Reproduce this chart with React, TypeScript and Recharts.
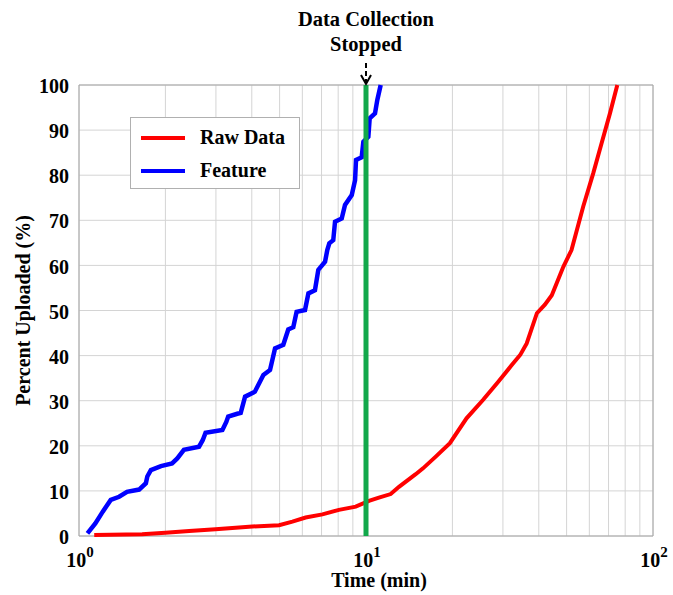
import React from 'react';
import { LineChart, Line, XAxis, YAxis, CartesianGrid, ReferenceLine, ReferenceArea } from 'recharts';

// Feature upload curve (time in min, percent uploaded)
const featureTime = [1.07, 1.14, 1.21, 1.29, 1.38, 1.47, 1.62, 1.71, 1.73, 1.78, 1.93, 2.11, 2.2, 2.32, 2.62, 2.7, 2.76, 3.16, 3.26, 3.31, 3.56, 3.66, 3.79, 4.1, 4.39, 4.63, 4.82, 5.15, 5.36, 5.58, 5.73, 6.13, 6.3, 6.64, 6.82, 7.2, 7.33, 7.45, 7.69, 7.8, 8.23, 8.45, 8.92, 9.16, 9.23, 9.66, 9.79, 10.19, 10.3, 10.75, 10.95, 11.25];
const featurePct = [0.6, 2.8, 5.4, 8.0, 8.7, 9.8, 10.3, 11.7, 13.2, 14.6, 15.5, 16.1, 17.2, 19.1, 19.8, 21.3, 22.9, 23.5, 25.3, 26.5, 27.1, 27.3, 30.9, 32.0, 35.7, 36.8, 41.6, 42.4, 45.8, 46.3, 49.7, 50.1, 53.8, 54.5, 59.0, 60.8, 63.4, 64.9, 65.6, 69.7, 70.4, 73.4, 75.6, 78.9, 83.4, 84.0, 87.4, 88.5, 92.6, 93.7, 96.7, 100];

// Raw data upload curve
const rawTime = [1.13, 1.66, 2.0, 2.42, 2.99, 4.02, 4.98, 5.54, 6.16, 7.05, 8.05, 9.21, 10.24, 11.09, 12.19, 13.03, 14.9, 15.8, 17.5, 19.6, 22.4, 25.6, 28.9, 32.2, 34.5, 36.3, 39.4, 42.0, 44.4, 48.7, 52.0, 57.1, 61.9, 66.2, 70.8, 75.1];
const rawPct = [0.2, 0.4, 0.7, 1.1, 1.5, 2.1, 2.4, 3.2, 4.1, 4.8, 5.8, 6.5, 7.8, 8.5, 9.3, 10.9, 13.7, 15.0, 17.6, 20.6, 26.1, 30.2, 34.2, 37.9, 40.2, 42.7, 49.4, 51.3, 53.4, 59.7, 63.4, 73.0, 80.4, 87.1, 93.7, 100];

const xTicks = [1, 2, 3, 4, 5, 6, 7, 8, 9, 10, 20, 30, 40, 50, 60, 70, 80, 90, 100];
const yTicks = [0, 10, 20, 30, 40, 50, 60, 70, 80, 90, 100];
const stopTime = 10;

const seriesNames = ['Raw Data', 'Feature'];
const seriesColors = ['#ff0000', '#0000ff'];

const featureData = featureTime.map((t, i) => ({ t, pct: featurePct[i] }));
const rawData = rawTime.map((t, i) => ({ t, pct: rawPct[i] }));

const FONT = '"Liberation Serif", "Times New Roman", serif';

const XTick = (props: any) => {
  const { x, y, payload } = props;
  const exp = Math.log10(payload.value);
  if (Math.abs(exp - Math.round(exp)) > 1e-6) return <g />;
  return (
    <text x={x + 1} y={y + 23} textAnchor="middle" fontFamily={FONT} fontWeight="bold" fontSize={20} fill="#000">
      10<tspan dy={-10} fontSize={15}>{Math.round(exp)}</tspan>
    </text>
  );
};

const StopLabel = (props: any) => {
  const { viewBox } = props;
  const cx = viewBox.x;
  const top = viewBox.y;
  return (
    <g>
      <text x={cx} y={top - 59} textAnchor="middle" fontFamily={FONT} fontWeight="bold" fontSize={20.5} fill="#000">Data Collection</text>
      <text x={cx} y={top - 34} textAnchor="middle" fontFamily={FONT} fontWeight="bold" fontSize={20.5} fill="#000">Stopped</text>
      <line x1={cx} y1={top - 22} x2={cx} y2={top - 2} stroke="#000" strokeWidth={2} strokeDasharray="5 3" />
      <polyline points={`${cx - 5},${top - 10} ${cx},${top - 1} ${cx + 5},${top - 10}`} fill="none" stroke="#000" strokeWidth={2} />
    </g>
  );
};

export default function App() {
  return (
    <div style={{ position: 'fixed', left: 0, top: 0, width: 673, height: 595, background: '#fff' }}>
      <LineChart width={673} height={595} margin={{ top: 85, right: 20, bottom: 0, left: 0 }}>
        <CartesianGrid stroke="#d4d4d4" strokeWidth={1} />
        <XAxis
          dataKey="t"
          type="number"
          scale="log"
          domain={[1, 100]}
          ticks={xTicks}
          allowDataOverflow
          height={59}
          tickLine={false}
          axisLine={false}
          tick={<XTick />}
          interval={0}
          label={(p: any) => (
            <text x={p.viewBox.x + p.viewBox.width / 2 + 13} y={p.viewBox.y + 51} textAnchor="middle" fontFamily={FONT} fontWeight="bold" fontSize={20} fill="#000">Time (min)</text>
          )}
        />
        <YAxis
          type="number"
          domain={[0, 100]}
          ticks={yTicks}
          width={79}
          tickLine={false}
          axisLine={false}
          interval={0}
          tick={{ fontFamily: FONT, fontWeight: 'bold', fontSize: 20, fill: '#000', dx: -2, dy: 1 }}
          label={(p: any) => {
            const cx = p.viewBox.x + 23;
            const cy = p.viewBox.y + p.viewBox.height / 2;
            return (
              <text x={cx} y={cy} transform={`rotate(-90 ${cx} ${cy})`} textAnchor="middle" dominantBaseline="central" fontFamily={FONT} fontWeight="bold" fontSize={20} fill="#000">Percent Uploaded (%)</text>
            );
          }}
        />
        <ReferenceArea x1={1} x2={100} y1={0} y2={100} fill="none" stroke="#a6a6a6" strokeWidth={1} ifOverflow="visible" />
        <Line data={rawData} dataKey="pct" name={seriesNames[0]} type="linear" stroke={seriesColors[0]} strokeWidth={4} dot={false} isAnimationActive={false} />
        <Line data={featureData} dataKey="pct" name={seriesNames[1]} type="linear" stroke={seriesColors[1]} strokeWidth={4.5} dot={false} isAnimationActive={false} />
        <ReferenceLine x={stopTime} stroke="#12a84b" strokeWidth={5} label={<StopLabel />} ifOverflow="visible" />
      </LineChart>
      <div style={{ position: 'absolute', left: 130, top: 117, width: 170, height: 72, border: '1px solid #b0b0b0', background: '#fff', boxSizing: 'border-box', paddingTop: 3 }}>
        {seriesNames.map((name, i) => (
          <div key={name} style={{ display: 'flex', alignItems: 'center', height: 33 }}>
            <div style={{ width: 44, height: 4, background: seriesColors[i], marginLeft: 10, marginRight: 15 }} />
            <span style={{ fontFamily: FONT, fontWeight: 'bold', fontSize: 20, color: '#000' }}>{name}</span>
          </div>
        ))}
      </div>
    </div>
  );
}
